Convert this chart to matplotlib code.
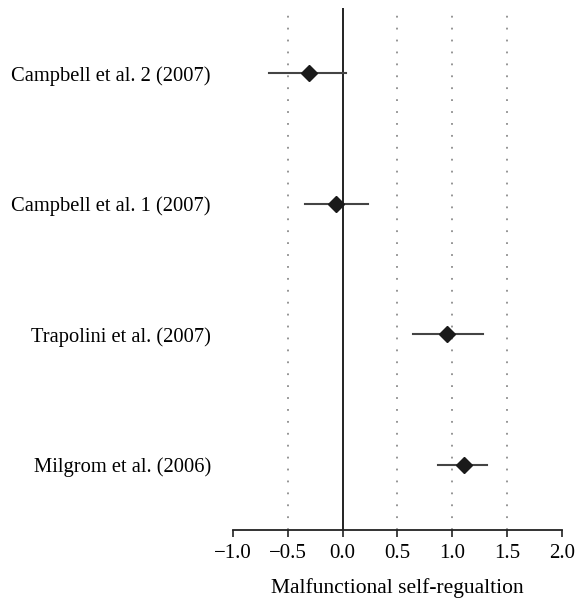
import matplotlib
matplotlib.use("Agg")
import matplotlib.pyplot as plt

studies = ["Campbell et al. 2 (2007)", "Campbell et al. 1 (2007)",
           "Trapolini et al. (2007)", "Milgrom et al. (2006)"]
effect = [-0.31, -0.06, 0.95, 1.11]
lower = [-0.67, -0.34, 0.64, 0.87]
upper = [0.03, 0.23, 1.28, 1.32]
xticks = [-1.0, -0.5, 0.0, 0.5, 1.0, 1.5, 2.0]
xticklabels = ["\u22121.0", "\u22120.5", "0.0", "0.5", "1.0", "1.5", "2.0"]
xlabel = "Malfunctional self-regualtion"

plt.rcParams['font.family'] = ['Liberation Serif', 'DejaVu Serif']

W, H = 576, 599
fig = plt.figure(figsize=(W/100, H/100), dpi=100)
ax = fig.add_axes([233/W, 1 - 530/H, (562-233)/W, (530-8)/H])

ypos = [4, 3, 2, 1]
for g in [-0.5, 0.5, 1.0, 1.5]:
    ax.axvline(g, color="#8c8c8c", linestyle=(0, (1, 5.6)), linewidth=1.3, zorder=0)
ax.axvline(0, color="#111111", linewidth=1.3, zorder=1)

for y, e, lo, hi in zip(ypos, effect, lower, upper):
    ax.plot([lo, hi], [y, y], color="#444444", linewidth=1.5, zorder=2)
    ax.plot([e], [y], marker="D", markersize=8.5, color="#1a1a1a", zorder=3)

ax.set_xlim(-1.0, 2.0)
ax.set_ylim(0.5, 4.5)
ax.set_xticks(xticks)
ax.set_xticklabels(xticklabels, fontsize=15)
ax.set_yticks(ypos)
ax.set_yticklabels(studies, fontsize=14.8)
ax.tick_params(axis="y", length=0, pad=16)
ax.tick_params(axis="x", length=5, width=1.2, direction="out", color="#222222", pad=5)
for s in ["top", "left", "right"]:
    ax.spines[s].set_visible(False)
ax.spines["bottom"].set_color("#222222")
ax.spines["bottom"].set_linewidth(1.3)
ax.set_xlabel(xlabel, fontsize=15.5, labelpad=11)

fig.savefig("out.png", dpi=100)
